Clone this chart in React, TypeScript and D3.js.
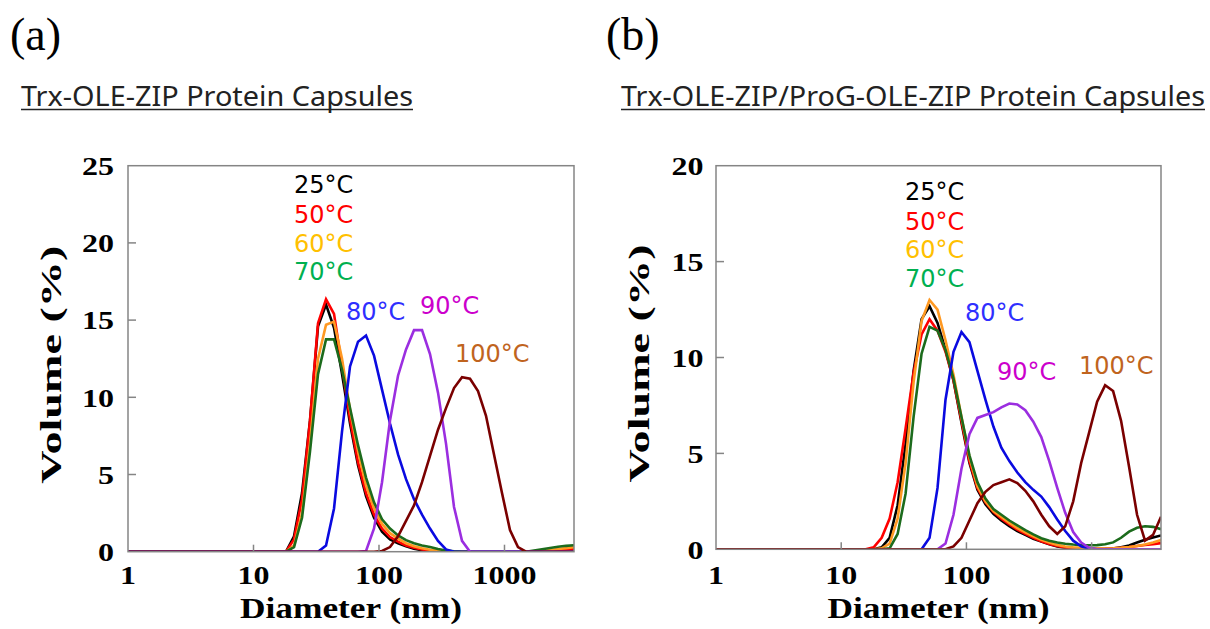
import React from 'react';
import * as d3 from 'd3';

// Zetasizer size classes (nm) used on the x axis
const SIZES = [
  0.9649, 1.117, 1.294, 1.499, 1.736, 2.010, 2.328, 2.696, 3.122, 3.615,
  4.187, 4.849, 5.615, 6.503, 7.531, 8.721, 10.10, 11.70, 13.54, 15.69,
  18.17, 21.04, 24.36, 28.21, 32.67, 37.84, 43.82, 50.75, 58.77, 68.06,
  78.82, 91.28, 105.7, 122.4, 141.8, 164.2, 190.1, 220.2, 255.0, 295.3,
  342.0, 396.1, 458.7, 531.2, 615.1, 712.4, 825.0, 955.4, 1106, 1281,
  1484, 1718, 1990, 2305, 2669, 3091, 3580,
];

const TEMPS = ['25', '50', '60', '70', '80', '90', '100'];
const X_TICKS = [1, 10, 100, 1000];
const Y_TICKS_A = [0, 5, 10, 15, 20, 25];
const Y_TICKS_B = [0, 5, 10, 15, 20];

// (a) Trx-OLE-ZIP
const A_25 = [
  0, 0, 0, 0, 0, 0, 0, 0, 0, 0, 0, 0, 0, 0, 0, 0, 0, 0, 0, 0,
  0, 1.0, 3.8, 8.5, 14.6, 16.0, 14.5, 11.5, 8.3, 5.6,
  3.6, 2.2, 1.3, 0.8, 0.55, 0.35, 0.2, 0.1, 0.05, 0,
  0, 0, 0, 0, 0, 0, 0, 0, 0, 0,
  0, 0, 0, 0, 0, 0, 0,
];
const A_50 = [
  0, 0, 0, 0, 0, 0, 0, 0, 0, 0, 0, 0, 0, 0, 0, 0, 0, 0, 0, 0,
  0, 0.8, 3.4, 8.5, 14.8, 16.35, 15.4, 12.0, 8.6, 5.8,
  3.8, 2.4, 1.5, 0.95, 0.65, 0.4, 0.25, 0.15, 0.08, 0.04,
  0, 0, 0, 0, 0, 0, 0, 0, 0, 0,
  0, 0, 0, 0.03, 0.08, 0.14, 0.2,
];
const A_60 = [
  0, 0, 0, 0, 0, 0, 0, 0, 0, 0, 0, 0, 0, 0, 0, 0, 0, 0, 0, 0,
  0, 0.4, 2.5, 7.0, 12.5, 14.7, 14.9, 12.5, 9.2, 6.5,
  4.3, 2.8, 1.8, 1.2, 0.85, 0.55, 0.35, 0.22, 0.13, 0.07,
  0.03, 0, 0, 0, 0, 0, 0, 0, 0, 0,
  0, 0, 0.05, 0.1, 0.17, 0.23, 0.3,
];
const A_70 = [
  0, 0, 0, 0, 0, 0, 0, 0, 0, 0, 0, 0, 0, 0, 0, 0, 0, 0, 0, 0,
  0, 0.3, 2.2, 6.5, 11.5, 13.75, 13.75, 11.8, 9.3, 6.9,
  4.8, 3.2, 2.1, 1.5, 1.05, 0.75, 0.55, 0.4, 0.3, 0.18,
  0.08, 0.02, 0, 0, 0, 0, 0, 0, 0, 0,
  0, 0.08, 0.16, 0.24, 0.32, 0.38, 0.42,
];
const A_80 = [
  0, 0, 0, 0, 0, 0, 0, 0, 0, 0, 0, 0, 0, 0, 0, 0, 0, 0, 0, 0,
  0, 0, 0, 0, 0, 0.4, 2.8, 7.8, 12.0, 13.6,
  14.0, 12.7, 10.5, 8.3, 6.3, 4.7, 3.4, 2.4, 1.5, 0.7,
  0.15, 0, 0, 0, 0, 0, 0, 0, 0, 0,
  0, 0, 0, 0, 0, 0, 0,
];
const A_90 = [
  0, 0, 0, 0, 0, 0, 0, 0, 0, 0, 0, 0, 0, 0, 0, 0, 0, 0, 0, 0,
  0, 0, 0, 0, 0, 0, 0, 0, 0, 0,
  0.05, 1.5, 4.5, 8.5, 11.4, 13.1, 14.35, 14.35, 12.8, 10.3,
  7.0, 2.9, 0.7, 0, 0, 0, 0, 0, 0, 0,
  0, 0, 0, 0, 0, 0, 0,
];
const A_100 = [
  0, 0, 0, 0, 0, 0, 0, 0, 0, 0, 0, 0, 0, 0, 0, 0, 0, 0, 0, 0,
  0, 0, 0, 0, 0, 0, 0, 0, 0, 0,
  0, 0, 0.05, 0.3, 1.0, 2.0, 3.0, 4.5, 6.2, 7.9,
  9.3, 10.6, 11.3, 11.2, 10.4, 8.8, 6.3, 3.8, 1.4, 0.3,
  0, 0, 0, 0, 0, 0, 0,
];

// (b) Trx-OLE-ZIP/ProG-OLE-ZIP
const B_25 = [
  0, 0, 0, 0, 0, 0, 0, 0, 0, 0, 0, 0, 0, 0, 0, 0, 0, 0, 0, 0,
  0, 0.1, 0.6, 2.3, 5.5, 9.3, 12.0, 12.67, 11.8, 10.4,
  8.8, 6.6, 4.5, 3.1, 2.35, 1.85, 1.5, 1.2, 0.95, 0.75,
  0.55, 0.4, 0.26, 0.15, 0.08, 0.04, 0.02, 0.01, 0.01, 0.02,
  0.04, 0.1, 0.2, 0.35, 0.5, 0.62, 0.72,
];
const B_50 = [
  0, 0, 0, 0, 0, 0, 0, 0, 0, 0, 0, 0, 0, 0, 0, 0, 0, 0, 0, 0,
  0.1, 0.6, 1.6, 3.5, 6.3, 9.2, 11.2, 12.0, 11.4, 10.3,
  8.8, 6.7, 4.6, 3.2, 2.45, 1.95, 1.6, 1.3, 1.02, 0.8,
  0.6, 0.42, 0.28, 0.17, 0.1, 0.05, 0.03, 0.02, 0.02, 0.03,
  0.05, 0.08, 0.12, 0.17, 0.22, 0.27, 0.32,
];
const B_60 = [
  0, 0, 0, 0, 0, 0, 0, 0, 0, 0, 0, 0, 0, 0, 0, 0, 0, 0, 0, 0,
  0, 0.05, 0.3, 1.6, 4.5, 8.7, 11.9, 13.0, 12.5, 10.9,
  9.1, 6.9, 4.8, 3.3, 2.5, 2.0, 1.68, 1.38, 1.1, 0.88,
  0.68, 0.5, 0.35, 0.23, 0.15, 0.1, 0.07, 0.05, 0.04, 0.04,
  0.05, 0.08, 0.12, 0.17, 0.25, 0.35, 0.48,
];
const B_70 = [
  0, 0, 0, 0, 0, 0, 0, 0, 0, 0, 0, 0, 0, 0, 0, 0, 0, 0, 0, 0,
  0, 0, 0.05, 0.8, 2.9, 6.9, 10.2, 11.6, 11.4, 10.4,
  8.9, 6.9, 4.9, 3.5, 2.65, 2.1, 1.8, 1.5, 1.25, 1.0,
  0.78, 0.58, 0.45, 0.35, 0.29, 0.25, 0.22, 0.21, 0.22, 0.26,
  0.36, 0.6, 0.92, 1.12, 1.2, 1.17, 1.05,
];
const B_80 = [
  0, 0, 0, 0, 0, 0, 0, 0, 0, 0, 0, 0, 0, 0, 0, 0, 0, 0, 0, 0,
  0, 0, 0, 0, 0, 0, 0, 0.6, 3.2, 7.8,
  10.3, 11.33, 10.8, 9.3, 7.8, 6.4, 5.3, 4.6, 4.0, 3.5,
  3.1, 2.75, 2.2, 1.55, 0.95, 0.45, 0.15, 0.02, 0, 0,
  0, 0, 0, 0, 0, 0, 0,
];
const B_90 = [
  0, 0, 0, 0, 0, 0, 0, 0, 0, 0, 0, 0, 0, 0, 0, 0, 0, 0, 0, 0,
  0, 0, 0, 0, 0, 0, 0, 0, 0, 0.3,
  1.8, 4.2, 6.0, 6.85, 7.0, 7.15, 7.4, 7.6, 7.55, 7.25,
  6.65, 5.85, 4.6, 3.2, 1.9, 0.9, 0.35, 0.08, 0, 0,
  0, 0, 0, 0, 0, 0, 0,
];
const B_100 = [
  0, 0, 0, 0, 0, 0, 0, 0, 0, 0, 0, 0, 0, 0, 0, 0, 0, 0, 0, 0,
  0, 0, 0, 0, 0, 0, 0, 0, 0, 0,
  0.15, 0.6, 1.5, 2.4, 3.0, 3.35, 3.5, 3.65, 3.45, 3.05,
  2.5, 1.8, 1.2, 0.8, 1.2, 2.5, 4.5, 6.1, 7.7, 8.55,
  8.25, 6.7, 4.3, 1.8, 0.45, 0.75, 1.7,
];

const LINE_COLORS = ['#000000', '#ff0000', '#ff9922', '#1c6b1c', '#0a0ae0', '#9b2ee0', '#7a0000'];
const LABEL_COLORS = ['#000000', '#ff0000', '#ffc000', '#00b050', '#2f2fff', '#cc00cc', '#c0641e'];

const SERIF_BOLD = "'Liberation Serif', 'DejaVu Serif', serif";
const SANS = "'DejaVu Sans', Verdana, sans-serif";
const DIGIT_W = 16;

interface PanelProps {
  id: string;
  letter: string;
  letterX: number;
  title: string;
  titleX: number;
  titleW: number;
  left: number;
  right: number;
  top: number;
  bottom: number;
  yMax: number;
  yTicks: number[];
  tickGap: number;
  series: number[][];
  labels: { x: number; y: number }[];
}

function Panel(p: PanelProps) {
  const x = d3.scaleLog().domain([1, 3580]).range([p.left, p.right]);
  const y = d3.scaleLinear().domain([0, p.yMax]).range([p.bottom, p.top]);
  const line = d3
    .line<number>()
    .x((_, i) => x(SIZES[i]))
    .y((v) => y(v));
  const cx = (p.left + p.right) / 2;
  const cy = (p.top + p.bottom) / 2;

  return (
    <g>
      <text x={p.letterX} y={50} fontFamily="'Liberation Serif', 'Times New Roman', serif" fontSize={46}>
        {p.letter}
      </text>
      <text
        x={p.titleX}
        y={106}
        fontFamily="'Noto Sans', 'DejaVu Sans', sans-serif"
        fontSize={27}
        textLength={p.titleW}
        lengthAdjust="spacingAndGlyphs"
        fill="#222"
      >
        {p.title}
      </text>
      <line x1={p.titleX} x2={p.titleX + p.titleW} y1={109.5} y2={109.5} stroke="#222" strokeWidth={1.4} />

      <clipPath id={`clip-${p.id}`}>
        <rect x={p.left} y={p.top} width={p.right - p.left} height={p.bottom - p.top} />
      </clipPath>

      <g clipPath={`url(#clip-${p.id})`}>
        {p.series.map((s, i) => (
          <path key={i} d={line(s) || ''} fill="none" stroke={LINE_COLORS[i]} strokeWidth={2.6} strokeLinejoin="miter" />
        ))}
      </g>

      <rect
        x={p.left}
        y={p.top}
        width={p.right - p.left}
        height={p.bottom - p.top}
        fill="none"
        stroke="#858585"
        strokeWidth={1.5}
      />

      {p.yTicks.map((t) => (
        <g key={`y${t}`}>
          {t > 0 && t < p.yMax && (
            <line x1={p.left} x2={p.left + 8} y1={y(t)} y2={y(t)} stroke="#858585" strokeWidth={1.5} />
          )}
          <text
            x={p.left - p.tickGap}
            y={y(t)}
            dy="0.36em"
            textAnchor="end"
            fontFamily={SERIF_BOLD}
            fontWeight="bold"
            fontSize={26}
            textLength={String(t).length * DIGIT_W}
            lengthAdjust="spacingAndGlyphs"
          >
            {t}
          </text>
        </g>
      ))}

      {X_TICKS.map((t) => (
        <g key={`x${t}`}>
          {t > 1 && <line x1={x(t)} x2={x(t)} y1={p.bottom} y2={p.bottom - 7} stroke="#858585" strokeWidth={1.5} />}
          <text
            x={x(t)}
            y={584}
            textAnchor="middle"
            fontFamily={SERIF_BOLD}
            fontWeight="bold"
            fontSize={25}
            textLength={String(t).length * DIGIT_W}
            lengthAdjust="spacingAndGlyphs"
          >
            {t}
          </text>
        </g>
      ))}

      <text
        x={cx}
        y={618}
        textAnchor="middle"
        fontFamily={SERIF_BOLD}
        fontWeight="bold"
        fontSize={29}
        textLength={222}
        lengthAdjust="spacingAndGlyphs"
      >
        Diameter (nm)
      </text>
      <text
        transform={`translate(${p.left - 67},${cy + 6}) rotate(-90)`}
        textAnchor="middle"
        fontFamily={SERIF_BOLD}
        fontWeight="bold"
        fontSize={29}
        textLength={238}
        lengthAdjust="spacingAndGlyphs"
      >
        Volume (%)
      </text>

      {TEMPS.map((t, i) => (
        <text key={t} x={p.labels[i].x} y={p.labels[i].y} fill={LABEL_COLORS[i]} fontFamily={SANS} fontSize={24}>
          {t}°C
        </text>
      ))}
    </g>
  );
}

const LABELS_A = [
  { x: 294, y: 193 },
  { x: 294, y: 223 },
  { x: 294, y: 252 },
  { x: 294, y: 280 },
  { x: 346, y: 320 },
  { x: 420, y: 314 },
  { x: 455, y: 362 },
];
const LABELS_B = [
  { x: 905, y: 200 },
  { x: 905, y: 230 },
  { x: 905, y: 258 },
  { x: 905, y: 287 },
  { x: 965, y: 321 },
  { x: 997, y: 380 },
  { x: 1079, y: 374 },
];

export default function App() {
  return (
    <div style={{ position: 'absolute', left: 0, top: 0 }}>
      <svg width={1210} height={629} style={{ display: 'block', background: '#fff' }}>
        <Panel
          id="a"
          letter="(a)"
          letterX={10}
          title="Trx-OLE-ZIP Protein Capsules"
          titleX={21}
          titleW={392}
          left={128}
          right={574}
          top={165.7}
          bottom={551.7}
          yMax={25}
          yTicks={Y_TICKS_A}
          tickGap={14}
          series={[A_25, A_50, A_60, A_70, A_80, A_90, A_100]}
          labels={LABELS_A}
        />
        <Panel
          id="b"
          letter="(b)"
          letterX={606}
          title="Trx-OLE-ZIP/ProG-OLE-ZIP Protein Capsules"
          titleX={621}
          titleW={584}
          left={716}
          right={1161}
          top={165.7}
          bottom={549.3}
          yMax={20}
          yTicks={Y_TICKS_B}
          tickGap={12.5}
          series={[B_25, B_50, B_60, B_70, B_80, B_90, B_100]}
          labels={LABELS_B}
        />
      </svg>
    </div>
  );
}
